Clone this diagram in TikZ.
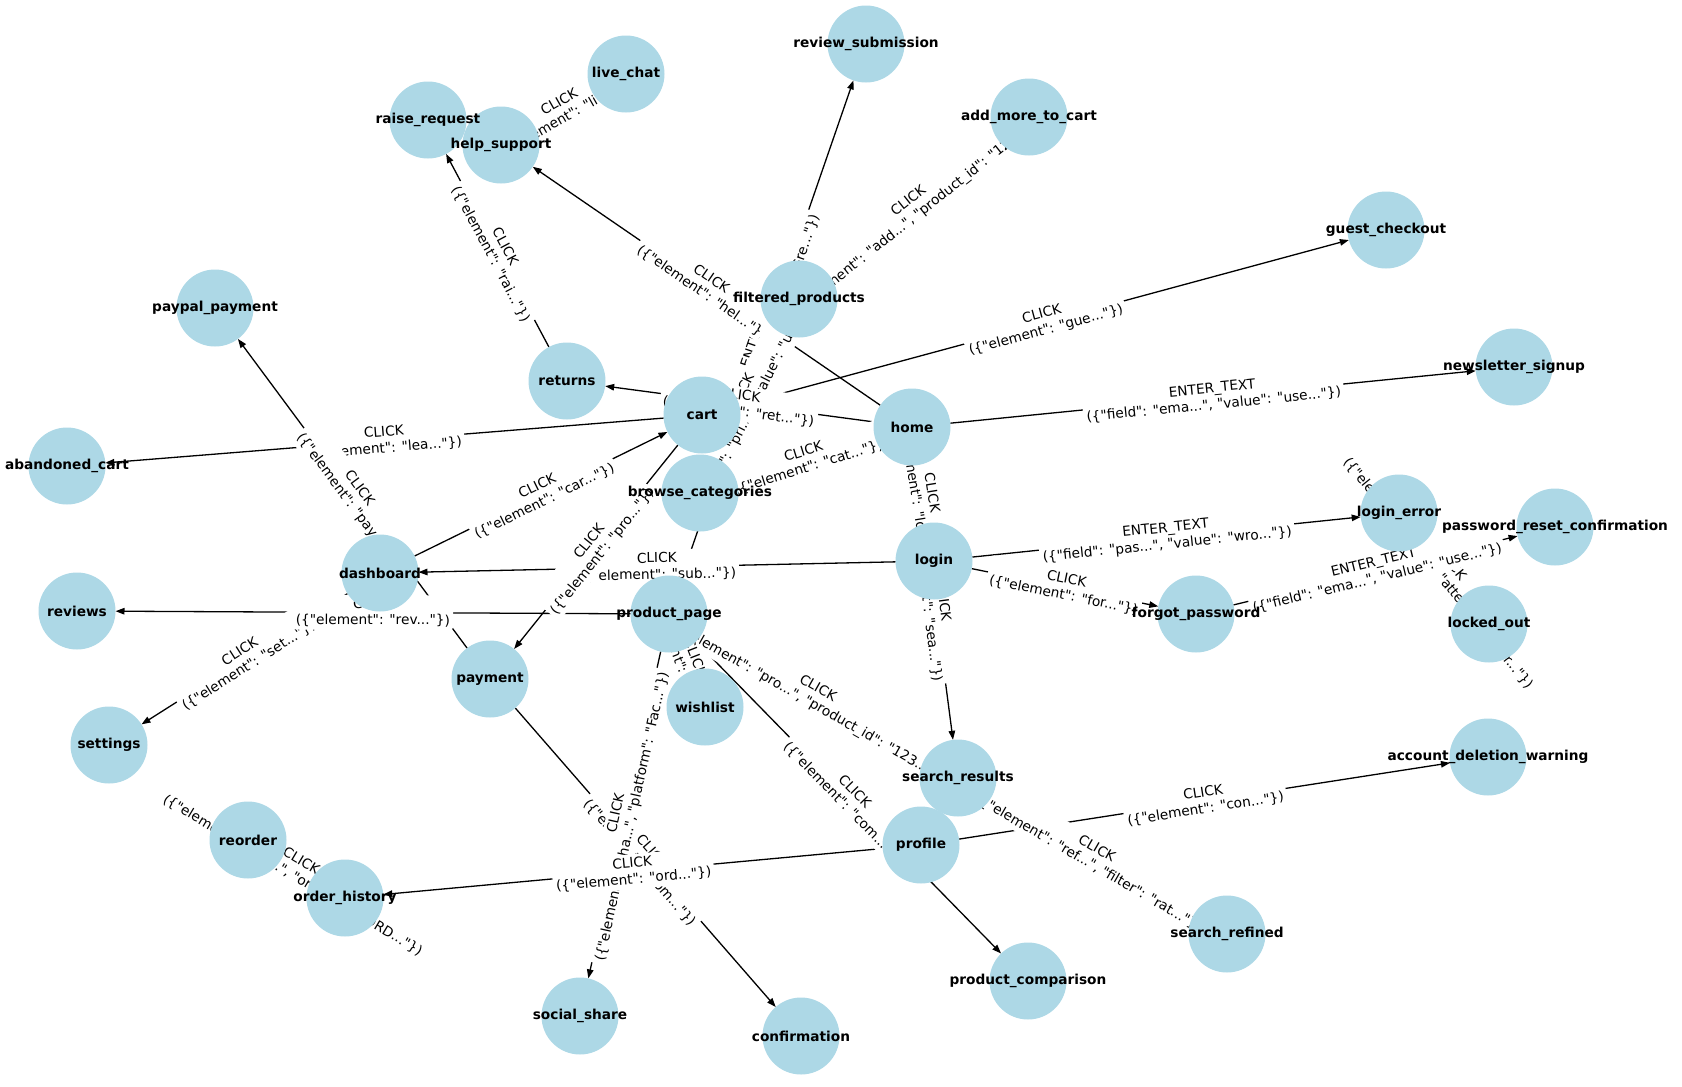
\documentclass[tikz,border=0pt]{standalone}
\usepackage{fontspec}
\setmainfont{DejaVu Sans}[Ligatures=TeXOff]
\usetikzlibrary{arrows.meta}
\definecolor{pageblue}{HTML}{ADD8E6}
\pgfdeclarelayer{edges}
\pgfdeclarelayer{tags}
\pgfsetlayers{edges,tags,main}
\tikzset{
    page/.style={circle,fill=pageblue,minimum size=77pt,inner sep=0pt,outer sep=0pt},
    pagename/.style={font=\fontsize{13.7}{16.4}\selectfont\bfseries,inner sep=0pt},
    link/.style={-{Triangle[length=9pt,width=6.5pt]},line width=1.3pt},
    tag/.style={sloped,fill=white,align=center,inner sep=3pt,rounded corners=3pt,font=\fontsize{13.7}{16.4}\selectfont},
}
\begin{document}
\begin{tikzpicture}[x=1pt,y=-1pt]
\useasboundingbox (0,0) rectangle (1682,1087);
% pages
\node[page] (reviewsub) at (866,44) {};
\node[page] (livechat) at (626,74) {};
\node[page] (addmore) at (1029,117) {};
\node[page] (raise) at (428,120) {};
\node[page] (help) at (501,145) {};
\node[page] (guest) at (1386,230) {};
\node[page] (filtered) at (799,299) {};
\node[page] (paypal) at (215,308) {};
\node[page] (newsletter) at (1514,367) {};
\node[page] (returns) at (567,381) {};
\node[page] (cart) at (702,415) {};
\node[page] (home) at (912,427) {};
\node[page] (abandoned) at (67,466) {};
\node[page] (browse) at (700,493) {};
\node[page] (loginerror) at (1399,513) {};
\node[page] (pwreset) at (1555,527) {};
\node[page] (login) at (934,561) {};
\node[page] (dashboard) at (380,573) {};
\node[page] (forgot) at (1196,614) {};
\node[page] (productpage) at (669,614) {};
\node[page] (reviews) at (77,611) {};
\node[page] (lockedout) at (1489,624) {};
\node[page] (payment) at (490,679) {};
\node[page] (wishlist) at (705,707) {};
\node[page] (settings) at (109,745) {};
\node[page] (searchresults) at (958,778) {};
\node[page] (accountdel) at (1488,757) {};
\node[page] (reorder) at (248,840) {};
\node[page] (profile) at (921,845) {};
\node[page] (orderhistory) at (345,898) {};
\node[page] (searchrefined) at (1227,934) {};
\node[page] (comparison) at (1028,981) {};
\node[page] (socialshare) at (580,1016) {};
\node[page] (confirmation) at (801,1036) {};
\foreach \n/\t in {reviewsub/review\_submission, livechat/live\_chat,
    addmore/add\_more\_to\_cart, raise/raise\_request, help/help\_support,
    guest/guest\_checkout, filtered/filtered\_products, paypal/paypal\_payment,
    newsletter/newsletter\_signup, returns/returns, cart/cart, home/home,
    abandoned/abandoned\_cart, browse/browse\_categories, loginerror/login\_error,
    pwreset/password\_reset\_confirmation, login/login, dashboard/dashboard,
    forgot/forgot\_password, productpage/product\_page, reviews/reviews,
    lockedout/locked\_out, payment/payment, wishlist/wishlist, settings/settings,
    searchresults/search\_results, accountdel/account\_deletion\_warning,
    reorder/reorder, profile/profile, orderhistory/order\_history,
    searchrefined/search\_refined, comparison/product\_comparison,
    socialshare/social\_share, confirmation/confirmation}
    \node[pagename] at (\n) {\t};
% transitions
\begin{pgfonlayer}{edges}
\draw[link] (productpage) -- (reviewsub);
\draw[link] (help) -- (livechat);
\draw[link] (home) -- (help);
\draw[link] (browse) -- (filtered);
\draw[link] (filtered) -- (addmore);
\draw[link] (cart) -- (guest);
\draw[link] (home) -- (newsletter);
\draw[link] (home) -- (returns);
\draw[link] (returns) -- (raise);
\draw[link] (cart) -- (abandoned);
\draw[link] (payment) -- (paypal);
\draw[link] (dashboard) -- (cart);
\draw[link] (home) -- (browse);
\draw[link] (home) -- (searchresults);
\draw[link] (home) -- (login);
\draw[link] (login) -- (dashboard);
\draw[link] (login) -- (loginerror);
\draw[link] (login) -- (forgot);
\draw[link] (loginerror) -- (lockedout);
\draw[link] (forgot) -- (pwreset);
\draw[link] (dashboard) -- (settings);
\draw[link] (productpage) -- (reviews);
\draw[link] (cart) -- (payment);
\draw[link] (searchresults) -- (productpage);
\draw[link] (productpage) -- (comparison);
\draw[link] (payment) -- (confirmation);
\draw[link] (productpage) -- (socialshare);
\draw[link] (profile) -- (orderhistory);
\draw[link] (profile) -- (accountdel);
\draw[link] (productpage) -- (wishlist);
\draw[link] (orderhistory) -- (reorder);
\draw[link] (searchresults) -- (searchrefined);
\end{pgfonlayer}
% transition labels
\begin{pgfonlayer}{tags}
\path (productpage) -- node[tag] {ENTER\_TEXT\\(\{"field": "rev...", "value": "Gre..."\})} (reviewsub);
\path (help) -- node[tag] {CLICK\\(\{"element": "liv..."\})} (livechat);
\path (home) -- node[tag] {CLICK\\(\{"element": "hel..."\})} (help);
\path (browse) -- node[tag] {CLICK\\(\{"type": "pri...", "value": "und..."\})} (filtered);
\path (filtered) -- node[tag] {CLICK\\(\{"element": "add...", "product\_id": "123..."\})} (addmore);
\path (cart) -- node[tag] {CLICK\\(\{"element": "gue..."\})} (guest);
\path (home) -- node[tag] {ENTER\_TEXT\\(\{"field": "ema...", "value": "use..."\})} (newsletter);
\path (home) -- node[tag] {CLICK\\(\{"element": "ret..."\})} (returns);
\path (returns) -- node[tag] {CLICK\\(\{"element": "rai..."\})} (raise);
\path (cart) -- node[tag] {CLICK\\(\{"element": "lea..."\})} (abandoned);
\path (payment) -- node[tag] {CLICK\\(\{"element": "pay..."\})} (paypal);
\path (dashboard) -- node[tag] {CLICK\\(\{"element": "car..."\})} (cart);
\path (home) -- node[tag] {CLICK\\(\{"element": "cat..."\})} (browse);
\path (home) -- node[tag] {CLICK\\(\{"element": "sea..."\})} (searchresults);
\path (home) -- node[tag] {CLICK\\(\{"element": "log..."\})} (login);
\path (login) -- node[tag] {CLICK\\(\{"element": "sub..."\})} (dashboard);
\path (login) -- node[tag] {ENTER\_TEXT\\(\{"field": "pas...", "value": "wro..."\})} (loginerror);
\path (login) -- node[tag] {CLICK\\(\{"element": "for..."\})} (forgot);
\path (loginerror) -- node[tag] {CLICK\\(\{"element": "log...", "attempts": "thr..."\})} (lockedout);
\path (forgot) -- node[tag] {ENTER\_TEXT\\(\{"field": "ema...", "value": "use..."\})} (pwreset);
\path (dashboard) -- node[tag] {CLICK\\(\{"element": "set..."\})} (settings);
\path (productpage) -- node[tag] {CLICK\\(\{"element": "rev..."\})} (reviews);
\path (cart) -- node[tag] {CLICK\\(\{"element": "pro..."\})} (payment);
\path (searchresults) -- node[tag] {CLICK\\(\{"element": "pro...", "product\_id": "123..."\})} (productpage);
\path (productpage) -- node[tag] {CLICK\\(\{"element": "com..."\})} (comparison);
\path (payment) -- node[tag] {CLICK\\(\{"element": "com..."\})} (confirmation);
\path (productpage) -- node[tag] {CLICK\\(\{"element": "sha...", "platform": "Fac..."\})} (socialshare);
\path (profile) -- node[tag] {CLICK\\(\{"element": "ord..."\})} (orderhistory);
\path (profile) -- node[tag] {CLICK\\(\{"element": "con..."\})} (accountdel);
\path (productpage) -- node[tag] {CLICK\\(\{"element": "wis..."\})} (wishlist);
\path (orderhistory) -- node[tag] {CLICK\\(\{"element": "reo...", "order\_id": "ORD..."\})} (reorder);
\path (searchresults) -- node[tag] {CLICK\\(\{"element": "ref...", "filter": "rat..."\})} (searchrefined);
\end{pgfonlayer}
\end{tikzpicture}
\end{document}
